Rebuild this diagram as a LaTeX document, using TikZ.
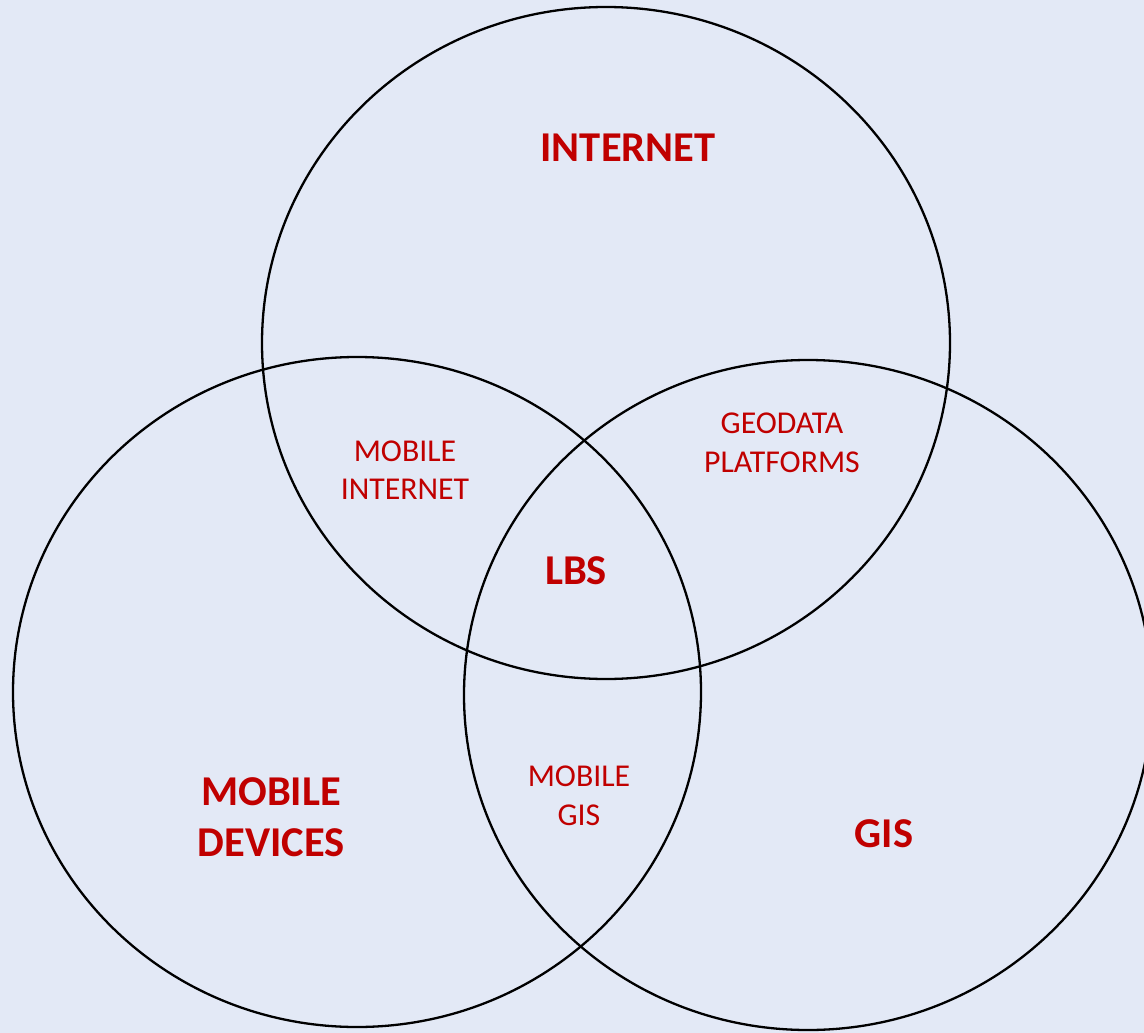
\documentclass[tikz,border=0pt]{standalone}
\usepackage{fontspec}
\setmainfont{Carlito}
\definecolor{bg}{HTML}{E3E9F6}
\definecolor{lbl}{HTML}{C00000}
\begin{document}
\begin{tikzpicture}[x=1pt,y=-1pt,
  ring/.style={draw=black,line width=2.3pt},
  big/.style={text=lbl,font=\fontsize{42.5}{51}\selectfont\bfseries,align=center},
  small/.style={text=lbl,font=\fontsize{31.8}{38.5}\selectfont,align=center}]
\fill[bg] (0,0) rectangle (1144,1033);
\useasboundingbox (0,0) rectangle (1144,1033);
\clip (0,0) rectangle (1144,1033);
\draw[ring] (606,343) ellipse [x radius=344,y radius=336];
\draw[ring] (357,692) ellipse [x radius=344,y radius=335];
\draw[ring] (808,695) ellipse [x radius=344,y radius=335];
\node[big] (internet) at (628,148) {INTERNET};
\node[big] (devices) at (271,817) {MOBILE\\DEVICES};
\node[big] (gis) at (884,834) {GIS};
\node[big] (lbs) at (576,571) {LBS};
\node[small] (mi) at (405,470) {MOBILE\\INTERNET};
\node[small] (geo) at (782,443) {GEODATA\\PLATFORMS};
\node[small] (mg) at (579,796) {MOBILE\\GIS};
\end{tikzpicture}
\end{document}
